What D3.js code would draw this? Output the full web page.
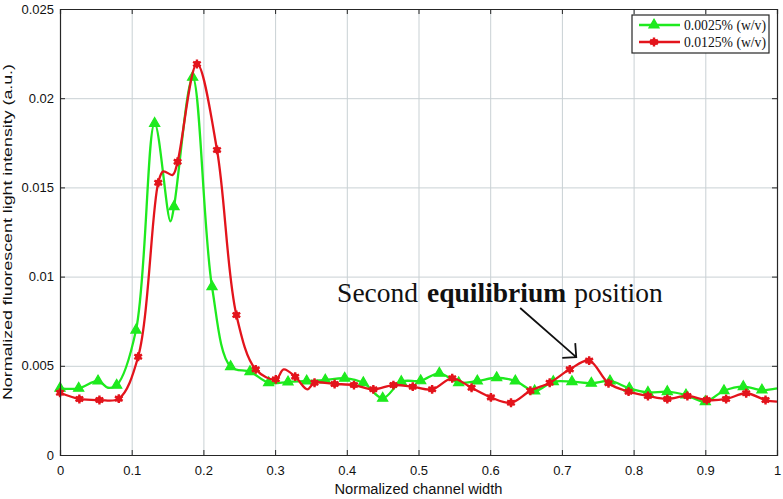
<!DOCTYPE html>
<html>
<head>
<meta charset="utf-8">
<script src="https://cdn.jsdelivr.net/npm/d3@7"></script>
<style>
body { margin: 0; background: #fff; }
svg { display: block; font-family: "Liberation Sans", Arial, sans-serif; }
</style>
</head>
<body>
<div id="chart"></div>
<script>
// values (marker positions)
const greenX = [0, 0.026, 0.053, 0.079, 0.106, 0.132, 0.159, 0.185, 0.212, 0.238,
    0.265, 0.291, 0.318, 0.344, 0.370, 0.397, 0.423, 0.450, 0.476, 0.503,
    0.529, 0.556, 0.582, 0.609, 0.635, 0.662, 0.688, 0.714, 0.741, 0.767,
    0.794, 0.820, 0.847, 0.873, 0.900, 0.926, 0.953, 0.979];
const greenY = [0.00374, 0.00374, 0.00415, 0.00391, 0.0070, 0.01859, 0.01392, 0.02117, 0.00943, 0.00495,
    0.00467, 0.00405, 0.00409, 0.00415, 0.00420, 0.00430, 0.00405, 0.00318, 0.00411, 0.00416,
    0.00458, 0.00405, 0.00415, 0.00433, 0.00415, 0.00359, 0.00411, 0.00411, 0.00402, 0.00415,
    0.00374, 0.00351, 0.00355, 0.00336, 0.00299, 0.00360, 0.00383, 0.00364];

const redX = [0, 0.027, 0.055, 0.082, 0.109, 0.137, 0.164, 0.191, 0.219, 0.246,
    0.273, 0.301, 0.328, 0.355, 0.383, 0.410, 0.437, 0.465, 0.492, 0.519,
    0.547, 0.574, 0.601, 0.629, 0.656, 0.683, 0.711, 0.738, 0.765, 0.793,
    0.820, 0.847, 0.875, 0.902, 0.929, 0.957, 0.984];
const redY = [0.00349, 0.00314, 0.00308, 0.00316, 0.00551, 0.01526, 0.01644, 0.02192, 0.01710, 0.00785,
    0.00480, 0.00424, 0.00439, 0.00405, 0.00398, 0.00392, 0.00368, 0.00392, 0.00383, 0.00368,
    0.00430, 0.00377, 0.00323, 0.00293, 0.00360, 0.00405, 0.00480, 0.00529, 0.00402, 0.00355,
    0.00331, 0.00314, 0.00331, 0.00308, 0.00314, 0.00346, 0.00308];

// points where the smoothed lines bend between markers (no marker drawn)
const greenBendX = [0.067, 0.154, 1.0];
const greenBendY = [0.00377, 0.0131, 0.00374];
const redBendX = [0.144, 0.157, 0.312, 0.345, 1.0];
const redBendY = [0.0159, 0.0157, 0.0048, 0.00368, 0.00299];

const xTicks = [0, 0.1, 0.2, 0.3, 0.4, 0.5, 0.6, 0.7, 0.8, 0.9, 1];
const yTicks = [0, 0.005, 0.01, 0.015, 0.02, 0.025];
const seriesNames = ["0.0025% (w/v)", "0.0125% (w/v)"];

const noteWords = ["Second", "equilibrium", "position"];
const noteAt = [0.3865, 0.00858];
const arrowFrom = [0.6418, 0.00824];
const arrowTo = [0.72, 0.00549];

const W = 783, H = 499;
const green = "#1eea1e", red = "#e3141c";

const svg = d3.select("#chart").append("svg")
    .attr("width", W).attr("height", H);

const x = d3.scaleLinear().domain([0, 1]).range([60, 777]);
const y = d3.scaleLinear().domain([0, 0.025]).range([455, 9]);

// grid
svg.append("g")
    .attr("transform", `translate(0,${y(0)})`)
    .call(d3.axisBottom(x).tickValues(xTicks).tickSize(-(y(0) - y(0.025))).tickFormat(""))
    .call(g => g.select(".domain").remove())
    .call(g => g.selectAll("line").attr("stroke", "#c9d1d4"));
svg.append("g")
    .attr("transform", `translate(${x(0)},0)`)
    .call(d3.axisLeft(y).tickValues(yTicks).tickSize(-(x(1) - x(0))).tickFormat(""))
    .call(g => g.select(".domain").remove())
    .call(g => g.selectAll("line").attr("stroke", "#c9d1d4"));

// lines
const pts = (xs, ys) => xs.map((v, i) => [v, ys[i]]);
const merged = (a, b) => a.concat(b).sort((p, q) => p[0] - q[0]);

const line = d3.line()
    .x(d => x(d[0]))
    .y(d => y(d[1]))
    .curve(d3.curveCatmullRom.alpha(0.5));

const greenPts = pts(greenX, greenY);
const redPts = pts(redX, redY);

svg.append("path")
    .datum(merged(greenPts, pts(greenBendX, greenBendY)))
    .attr("d", line)
    .attr("fill", "none").attr("stroke", green).attr("stroke-width", 2.3);

svg.selectAll("path.tri")
    .data(greenPts)
    .enter().append("path")
    .attr("class", "tri")
    .attr("d", d3.symbol(d3.symbolTriangle, 45))
    .attr("transform", d => `translate(${x(d[0])},${y(d[1])})`)
    .attr("fill", green).attr("stroke", green).attr("stroke-width", 1.2);

svg.append("path")
    .datum(merged(redPts, pts(redBendX, redBendY)))
    .attr("d", line)
    .attr("fill", "none").attr("stroke", red).attr("stroke-width", 2.3);

const star = (sel) => {
    sel.append("path")
        .attr("d", d3.symbol(d3.symbolAsterisk, 55))
        .attr("stroke", red).attr("stroke-width", 2.4).attr("fill", "none");
    sel.append("circle").attr("r", 3.2).attr("fill", red);
};
svg.selectAll("g.star")
    .data(redPts)
    .enter().append("g")
    .attr("class", "star")
    .attr("transform", d => `translate(${x(d[0])},${y(d[1])})`)
    .call(star);

// axes with inward ticks on all four sides
const fmt = d => String(d);
svg.append("g")
    .attr("transform", `translate(0,${y(0)})`)
    .call(d3.axisBottom(x).tickValues(xTicks).tickSize(-5).tickPadding(11).tickFormat(fmt));
svg.append("g")
    .attr("transform", `translate(0,${y(0.025)})`)
    .call(d3.axisTop(x).tickValues(xTicks).tickSize(-5).tickFormat(""));
svg.append("g")
    .attr("transform", `translate(${x(0)},0)`)
    .call(d3.axisLeft(y).tickValues(yTicks).tickSize(-5).tickPadding(6).tickFormat(fmt));
svg.append("g")
    .attr("transform", `translate(${x(1)},0)`)
    .call(d3.axisRight(y).tickValues(yTicks).tickSize(-5).tickFormat(""));

svg.selectAll(".domain").attr("stroke", "#262626").attr("stroke-width", 1.2);
svg.selectAll(".tick line").filter(function () { return d3.select(this).attr("stroke") !== "#c9d1d4"; })
    .attr("stroke", "#262626");
svg.selectAll(".tick text")
    .attr("font-size", 13).attr("fill", "#111")
    .attr("font-family", "'Liberation Sans', Arial, sans-serif");

// axis titles
svg.append("text")
    .attr("x", (x(0) + x(1)) / 2).attr("y", 494)
    .attr("text-anchor", "middle")
    .attr("font-size", 14).attr("fill", "#111")
    .attr("textLength", 168).attr("lengthAdjust", "spacingAndGlyphs")
    .text("Normalized channel width");
svg.append("text")
    .attr("transform", `translate(12,${(y(0) + y(0.025)) / 2}) rotate(-90)`)
    .attr("text-anchor", "middle")
    .attr("font-size", 13).attr("fill", "#111")
    .attr("textLength", 336).attr("lengthAdjust", "spacingAndGlyphs")
    .text("Normalized fluorescent light intensity (a.u.)");

// annotation
const note = svg.append("text")
    .attr("x", x(noteAt[0])).attr("y", y(noteAt[1]))
    .attr("font-family", "'Liberation Serif', 'Times New Roman', serif")
    .attr("font-size", 27.5).attr("fill", "#111");
note.append("tspan").text(noteWords[0]);
note.append("tspan").attr("dx", 9).attr("font-weight", "bold").text(noteWords[1]);
note.append("tspan").attr("dx", 8).text(noteWords[2]);

const ax0 = x(arrowFrom[0]), ay0 = y(arrowFrom[1]);
const ax1 = x(arrowTo[0]), ay1 = y(arrowTo[1]);
const ang = Math.atan2(ay1 - ay0, ax1 - ax0);
const headLen = 14;
svg.append("path")
    .attr("d", `M${ax0},${ay0}L${ax1},${ay1}` +
        `M${ax1 + headLen * Math.cos(ang + Math.PI + 0.78)},${ay1 + headLen * Math.sin(ang + Math.PI + 0.78)}` +
        `L${ax1},${ay1}` +
        `L${ax1 + headLen * Math.cos(ang + Math.PI - 0.78)},${ay1 + headLen * Math.sin(ang + Math.PI - 0.78)}`)
    .attr("fill", "none").attr("stroke", "#111").attr("stroke-width", 1.8);

// legend
const lg = svg.append("g").attr("transform", "translate(632,15)");
lg.append("rect")
    .attr("width", 137).attr("height", 38)
    .attr("fill", "#fff").attr("stroke", "#262626").attr("stroke-width", 1.2);
const rows = lg.selectAll("g.row")
    .data(seriesNames)
    .enter().append("g")
    .attr("class", "row")
    .attr("transform", (d, i) => `translate(0,${10 + i * 17})`);
rows.append("line")
    .attr("x1", 7).attr("x2", 48)
    .attr("stroke", (d, i) => i === 0 ? green : red).attr("stroke-width", 2.3);
rows.filter((d, i) => i === 0).append("path")
    .attr("d", d3.symbol(d3.symbolTriangle, 45))
    .attr("transform", "translate(22,0)")
    .attr("fill", green).attr("stroke", green).attr("stroke-width", 1.2);
rows.filter((d, i) => i === 1).append("g")
    .attr("transform", "translate(22,0)")
    .call(star);
rows.append("text")
    .attr("x", 52).attr("dy", "0.35em")
    .attr("font-family", "'Liberation Serif', 'Times New Roman', serif")
    .attr("font-size", 15.5).attr("fill", "#111")
    .attr("textLength", 82).attr("lengthAdjust", "spacingAndGlyphs")
    .text(d => d);
</script>
</body>
</html>
